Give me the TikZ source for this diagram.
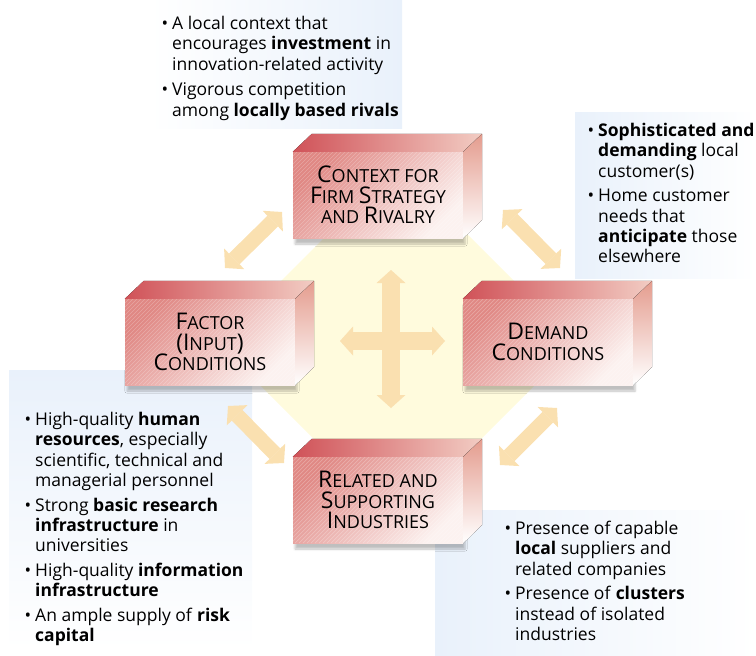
\documentclass[tikz,border=0pt]{standalone}
\usepackage{fontspec}
\setmainfont{Open Sans}
\usetikzlibrary{arrows.meta,shadows.blur,positioning}

\definecolor{wheat}{RGB}{250,224,176}
\definecolor{paneblue}{RGB}{233,241,251}
\definecolor{glow}{RGB}{255,251,221}
\definecolor{boxred}{RGB}{224,136,132}
\definecolor{boxpale}{RGB}{252,242,240}
\definecolor{topred}{RGB}{208,82,88}
\definecolor{toppale}{RGB}{242,204,195}
\definecolor{sidered}{RGB}{228,156,142}

% bullet hanging in the left margin, big letter for the small caps titles
\newcommand{\bul}{\llap{\textbullet\hspace{4pt}}}
\newcommand{\capl}[1]{{\fontsize{23}{20}\selectfont #1}}

% top and right faces of a box whose front face is node #1
\newcommand{\boxfaces}[1]{%
  \fill[left color=topred, right color=toppale]
    (#1.north west) -- ++(19,-18) -- ++(170,0) -- (#1.north east) -- cycle;
  \fill[top color=sidered, bottom color=white]
    (#1.north east) -- ++(19,-18) -- ++(0,86) -- (#1.south east) -- cycle;
}

\tikzset{
  face/.style={minimum width=170pt, minimum height=86pt, inner sep=0pt,
    top color=boxred, bottom color=boxpale, shading angle=45,
    path picture={
      \foreach \k in {-90,-86,...,170}
        \draw[white, opacity=.25, line width=.7pt]
          ([xshift=\k pt]path picture bounding box.south west) -- ++(100,-100);
    },
    blur shadow={shadow xshift=2pt, shadow yshift=-6pt, shadow opacity=25},
    align=center, font=\fontsize{18}{20.5}\selectfont},
  note/.style={anchor=north west, inner sep=0pt, align=left,
    font=\fontsize{17.5}{20.4}\selectfont},
  bigarrow/.style={draw=wheat, line width=15pt,
    {Triangle[length=13pt,width=29pt,line width=0pt]}-{Triangle[length=13pt,width=29pt,line width=0pt]}},
  crossarrow/.style={bigarrow, line width=18pt},
}

\begin{document}
\begin{tikzpicture}[x=1pt,y=-1pt]
\useasboundingbox (0,0) rectangle (756,656);

% panels behind the notes
\fill[left color=white, right color=paneblue] (150,0) rectangle (402,128);
\fill[left color=paneblue, right color=white] (575,112) rectangle (756,278);
\fill[top color=paneblue, bottom color=white] (9,370) rectangle (252,650);
\fill[left color=paneblue, right color=white] (435,510) rectangle (756,656);

% glow in the middle
\fill[glow] (330,232) -- (465,232) -- (539,306) -- (539,381)
  -- (465,455) -- (330,455) -- (255,380) -- (255,307) -- cycle;

% central cross
\draw[crossarrow] (391,270) -- (391,408);
\draw[crossarrow] (340,341) -- (445,341);

% links between the boxes
\coordinate (nwA) at (225,268); \coordinate (nwB) at (282,212);
\coordinate (neA) at (503,210); \coordinate (neB) at (560,268);
\coordinate (swA) at (228,406); \coordinate (swB) at (284,463);
\coordinate (seA) at (500,465); \coordinate (seB) at (557,408);
\draw[bigarrow] (nwA) -- (nwB);
\draw[bigarrow] (neA) -- (neB);
\draw[bigarrow] (swA) -- (swB);
\draw[bigarrow] (seA) -- (seB);

% the four boxes
\node[face] (ctx) at (378,195) {\capl{C}ONTEXT FOR\\ \capl{F}IRM \capl{S}TRATEGY\\ AND \capl{R}IVALRY};
\boxfaces{ctx}
\node[face] (fac) at (210,342) {\capl{F}ACTOR\\ \capl{(I}NPUT\capl{)}\\ \capl{C}ONDITIONS};
\boxfaces{fac}
\node[face] (dem) at (548,342) {\capl{D}EMAND\\ \capl{C}ONDITIONS};
\boxfaces{dem}
\node[face] (rel) at (378,500) {\capl{R}ELATED AND\\ \capl{S}UPPORTING\\ \capl{I}NDUSTRIES};
\boxfaces{rel}

% notes
\node[note] (ctxnote) at (172,16) {\bul A local context that\\
  encourages \textbf{investment} in\\
  innovation-related activity\\[5pt]
  \bul Vigorous competition\\
  among \textbf{locally based rivals}};
\node[note] (demnote) at (598,123) {\bul \textbf{Sophisticated and}\\
  \textbf{demanding} local\\
  customer(s)\\[4pt]
  \bul Home customer\\
  needs that\\
  \textbf{anticipate} those\\
  elsewhere};
\node[note] (facnote) at (35,412) {\bul High-quality \textbf{human}\\
  \textbf{resources}, especially\\
  scientific, technical and\\
  managerial personnel\\[4pt]
  \bul Strong \textbf{basic research}\\
  \textbf{infrastructure} in\\
  universities\\[4pt]
  \bul High-quality \textbf{information}\\
  \textbf{infrastructure}\\[4pt]
  \bul An ample supply of \textbf{risk}\\
  \textbf{capital}};
\node[note] (relnote) at (515,521) {\bul Presence of capable\\
  \textbf{local} suppliers and\\
  related companies\\[4pt]
  \bul Presence of \textbf{clusters}\\
  instead of isolated\\
  industries};
\end{tikzpicture}
\end{document}
